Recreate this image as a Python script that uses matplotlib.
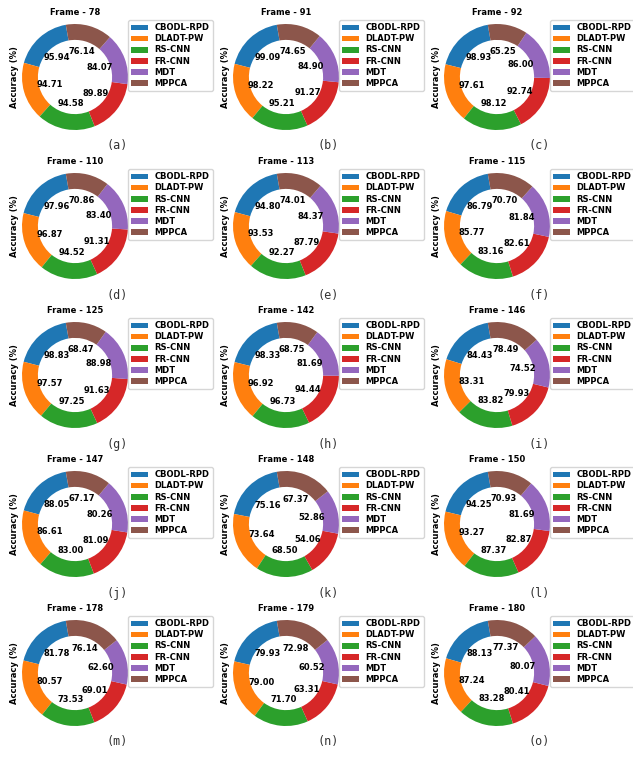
import numpy as np
import matplotlib.pyplot as plt

methods = ['CBODL-RPD', 'DLADT-PW', 'RS-CNN', 'FR-CNN', 'MDT', 'MPPCA']
frames = [78, 91, 92, 110, 113, 115, 125, 142, 146, 147, 148, 150, 178, 179, 180]

# accuracy (%) per frame, in the order of `methods`
acc = [
    [95.94, 94.71, 94.58, 89.89, 84.07, 76.14],
    [99.09, 98.22, 95.21, 91.27, 84.90, 74.65],
    [98.93, 97.61, 98.12, 92.74, 86.00, 65.25],
    [97.96, 96.87, 94.52, 91.31, 83.40, 70.86],
    [94.80, 93.53, 92.27, 87.79, 84.37, 74.01],
    [86.79, 85.77, 83.16, 82.61, 81.84, 70.70],
    [98.83, 97.57, 97.25, 91.63, 88.98, 68.47],
    [98.33, 96.92, 96.73, 94.44, 81.69, 68.75],
    [84.43, 83.31, 83.82, 79.93, 74.52, 78.49],
    [88.05, 86.61, 83.00, 81.09, 80.26, 67.17],
    [75.16, 73.64, 68.50, 54.06, 52.86, 67.37],
    [94.25, 93.27, 87.37, 82.87, 81.69, 70.93],
    [81.78, 80.57, 73.53, 69.01, 62.60, 76.14],
    [79.93, 79.00, 71.70, 63.31, 60.52, 72.98],
    [88.13, 87.24, 83.28, 80.41, 80.07, 77.37],
]
captions = ['(a)', '(b)', '(c)', '(d)', '(e)', '(f)', '(g)', '(h)', '(i)',
            '(j)', '(k)', '(l)', '(m)', '(n)', '(o)']

colors = plt.get_cmap('tab10').colors[:6]

W, H = 633, 758
fig = plt.figure(figsize=(W / 100, H / 100), dpi=100)


def fx(px):
    return px / W


def fy(py):
    return 1 - py / H


side = 132.5  # axes box in px, pie radius = side * 0.4
for i, (frame, vals) in enumerate(zip(frames, acc)):
    r, c = divmod(i, 3)
    ox, oy = c * 211, r * 149
    cx, cy = ox + 75, oy + 77
    ax = fig.add_axes([fx(cx - side / 2), fy(cy + side / 2), side / W, side / H])
    total = sum(vals)
    wedges, _, pct = ax.pie(vals, colors=colors, startangle=100,
                            wedgeprops=dict(width=0.3), pctdistance=0.5,
                            autopct=lambda p, t=total: f'{p * t / 100:.2f}',
                            textprops=dict(fontsize=6, fontweight='bold'))
    ax.set_xlim(-1.25, 1.25)
    ax.set_ylim(-1.25, 1.25)
    ax.set_title(f'Frame - {frame}', fontsize=6, fontweight='bold', y=0.966, pad=0)
    ax.set_ylabel('Accuracy (%)', fontsize=6, fontweight='bold')
    ax.yaxis.set_label_coords(0.08, 0.5)
    ax.legend(wedges, methods, loc='upper left',
              bbox_to_anchor=(fx(ox + 128), fy(oy + 20)),
              bbox_transform=fig.transFigure, borderaxespad=0,
              prop=dict(size=6, weight='bold'), labelspacing=0.25,
              handlelength=2.0, handletextpad=0.8)
    fig.text(fx(ox + 117), fy(oy + 146), captions[i], ha='center', va='center',
             family='DejaVu Sans Mono', fontsize=8.5, color='#333333')

fig.savefig('out.png', dpi=100)
